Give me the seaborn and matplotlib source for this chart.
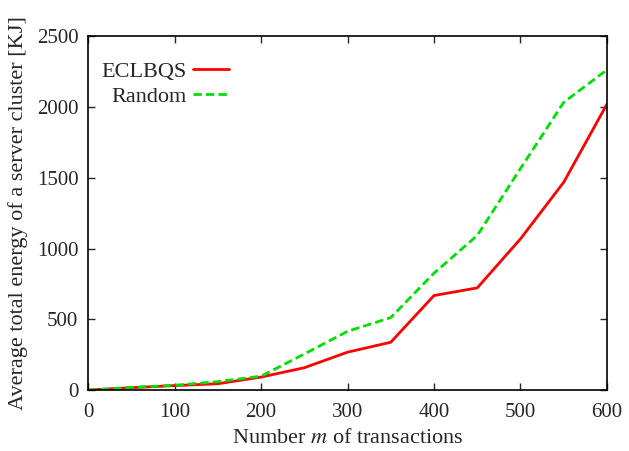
import matplotlib
matplotlib.use("Agg")
import matplotlib.pyplot as plt
import seaborn as sns
import pandas as pd

m = [0, 50, 100, 150, 200, 250, 300, 350, 400, 450, 500, 550, 600]
eclbqs = [0, 17, 32, 45, 92, 158, 268, 338, 668, 722, 1068, 1468, 2020]
random_ = [0, 19, 34, 60, 98, 255, 415, 512, 826, 1092, 1565, 2032, 2262]

df = pd.DataFrame({
    "m": m * 2,
    "energy": eclbqs + random_,
    "method": ["ECLBQS"] * len(m) + ["Random"] * len(m),
})

sns.set_style("white")
plt.rcParams["font.family"] = ["Liberation Serif", "DejaVu Serif"]
plt.rcParams["mathtext.fontset"] = "stix"

fig = plt.figure(figsize=(6.29, 4.51), dpi=100)
ax = fig.add_axes([0.140, 0.135, 0.825, 0.785])
sns.lineplot(data=df, x="m", y="energy", hue="method", style="method",
             palette={"ECLBQS": "#ff0000", "Random": "#00e000"},
             dashes={"ECLBQS": "", "Random": (3, 1.5)},
             linewidth=2, ax=ax)

ax.set_xlim(0, 600)
ax.set_ylim(0, 2500)
ax.set_xticks(range(0, 601, 100))
ax.set_yticks(range(0, 2501, 500))
ax.tick_params(direction="in", length=5, width=1, labelsize=15,
               top=True, right=True, bottom=True, left=True, pad=7)
ax.tick_params(axis="x", pad=9)
for s in ax.spines.values():
    s.set_linewidth(1.2)
    s.set_color("black")
ax.set_xlabel("Number $m$ of transactions", fontsize=16, labelpad=5)
ax.set_ylabel("Average total energy of a server cluster [KJ]", fontsize=16, labelpad=6)

leg = ax.legend(loc="upper left", frameon=False, markerfirst=False, fontsize=16,
                handlelength=1.6, handletextpad=0.3, bbox_to_anchor=(0.026, 0.928),
                borderaxespad=0, borderpad=0, labelspacing=0.2)
for t in leg.get_texts():
    t.set_ha("right")

fig.savefig("out.png", dpi=100)
